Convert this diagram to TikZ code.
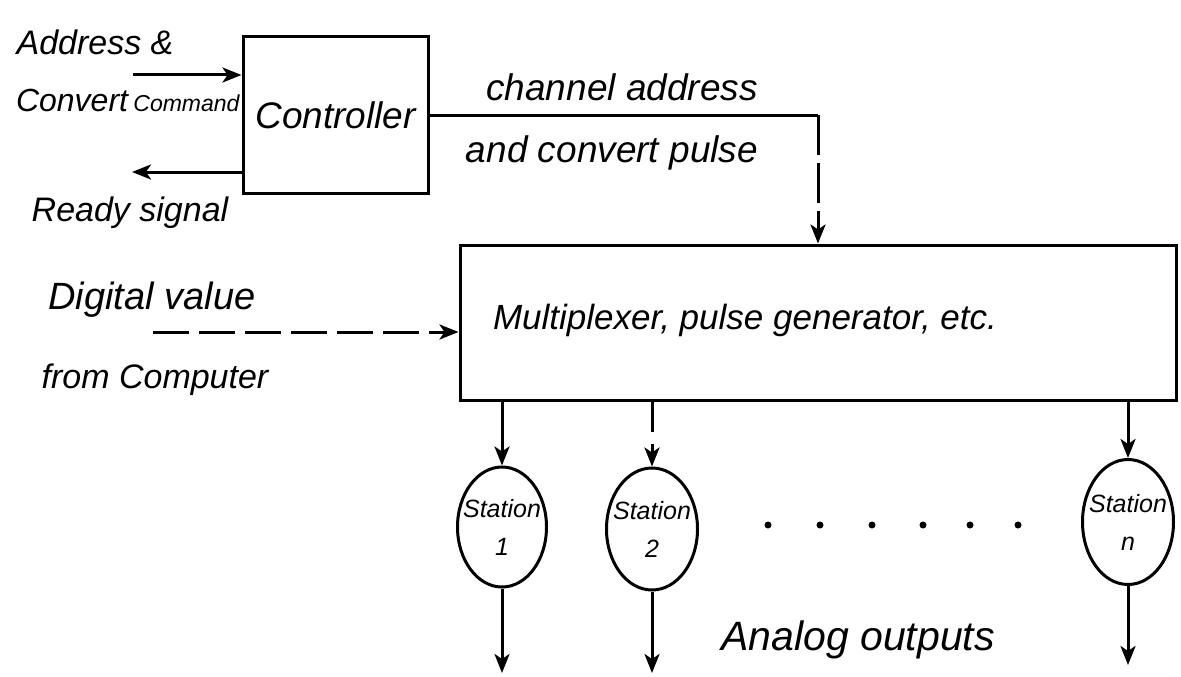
\documentclass[tikz,border=0pt]{standalone}
\usepackage{fontspec}
\setmainfont{Liberation Sans}
\usetikzlibrary{arrows.meta,shapes.geometric}
\begin{document}
\begin{tikzpicture}[x=1pt,y=-1pt,
  line width=3pt,
  arr/.style={-{Stealth[length=19pt,width=15pt,inset=5pt]}},
  blk/.style={draw,rectangle,inner sep=0pt},
  stat/.style={draw,ellipse,inner sep=0pt},
  lbl/.style={font=\fontsize{34}{36}\selectfont\itshape,inner sep=0pt},
  stl/.style={font=\fontsize{25}{38}\selectfont\itshape,align=center,inner sep=0pt},
]
\useasboundingbox (0,0) rectangle (1181,677);

% blocks
\node[blk, minimum width=185pt, minimum height=156pt,
      font=\fontsize{37}{38}\selectfont\itshape] (ctrl) at (335.5,115) {Controller};
\node[blk, minimum width=716pt, minimum height=155pt] (mux) at (818,322.5) {};
\node[lbl, font=\fontsize{35}{36}\selectfont\itshape] (muxlbl) at (745,320) {Multiplexer, pulse generator, etc.};

% stations
\node[stat, minimum width=89pt, minimum height=120pt] (st1) at (502,527) {};
\node[stat, minimum width=91pt, minimum height=122pt] (st2) at (652,529) {};
\node[stat, minimum width=91pt, minimum height=125pt] (stn) at (1128,522) {};
\node[stl] (st1l) at (st1) {Station\\1};
\node[stl] (st2l) at (st2) {Station\\2};
\node[stl] (stnl) at (stn) {Station\\n};

% texts
\node[lbl] (taddr) at (95,42) {Address \&};
\node[lbl, anchor=east, font=\fontsize{32}{34}\selectfont\itshape] (tconv) at (241,100) {Convert\,{\fontsize{23}{23}\selectfont Command}};
\node[lbl] (tready) at (130,213) {Ready signal};
\node[lbl, font=\fontsize{37}{38}\selectfont\itshape] (tchan) at (622,87) {channel address};
\node[lbl, font=\fontsize{37}{38}\selectfont\itshape] (tconvp) at (612,153) {and convert pulse};
\node[lbl, font=\fontsize{38}{38}\selectfont\itshape] (tdig) at (152,300) {Digital value};
\node[lbl] (tfrom) at (155,380) {from Computer};
\node[lbl, font=\fontsize{41}{42}\selectfont\itshape] (tana) at (858,640) {Analog outputs};

% free ends
\coordinate (addr) at (133,75);
\coordinate (rdy) at (132,172);
\coordinate (dv) at (153,332);
\coordinate (corner) at (mux.north |- ctrl.east);
\coordinate (o1) at (502,673);
\coordinate (o2) at (652,673);
\coordinate (on) at (1128,665);

% connectors
\draw[arr] (addr) -- (addr -| ctrl.west);
\draw[arr] (rdy -| ctrl.west) -- (rdy);
\draw (ctrl.east) -- (corner);
\draw[arr, dash pattern=on 40pt off 8pt] (corner) -- (mux.north);
\draw[arr, dash pattern=on 36pt off 10pt] (dv) -- (dv -| mux.west);

\draw[arr] (st1.north |- mux.south) -- (st1.north);
\draw[arr, dash pattern=on 30pt off 12pt] (st2.north |- mux.south) -- (st2.north);
\draw[arr] (stn.north |- mux.south) -- (stn.north);

\draw[arr] (st1.south) -- (o1);
\draw[arr] (st2.south) -- (o2);
\draw[arr] (stn.south) -- (on);

% ellipsis dots
\foreach \x in {768,820,872,923,970,1018}
  \fill (\x,525) circle (3.5pt);
\end{tikzpicture}
\end{document}
